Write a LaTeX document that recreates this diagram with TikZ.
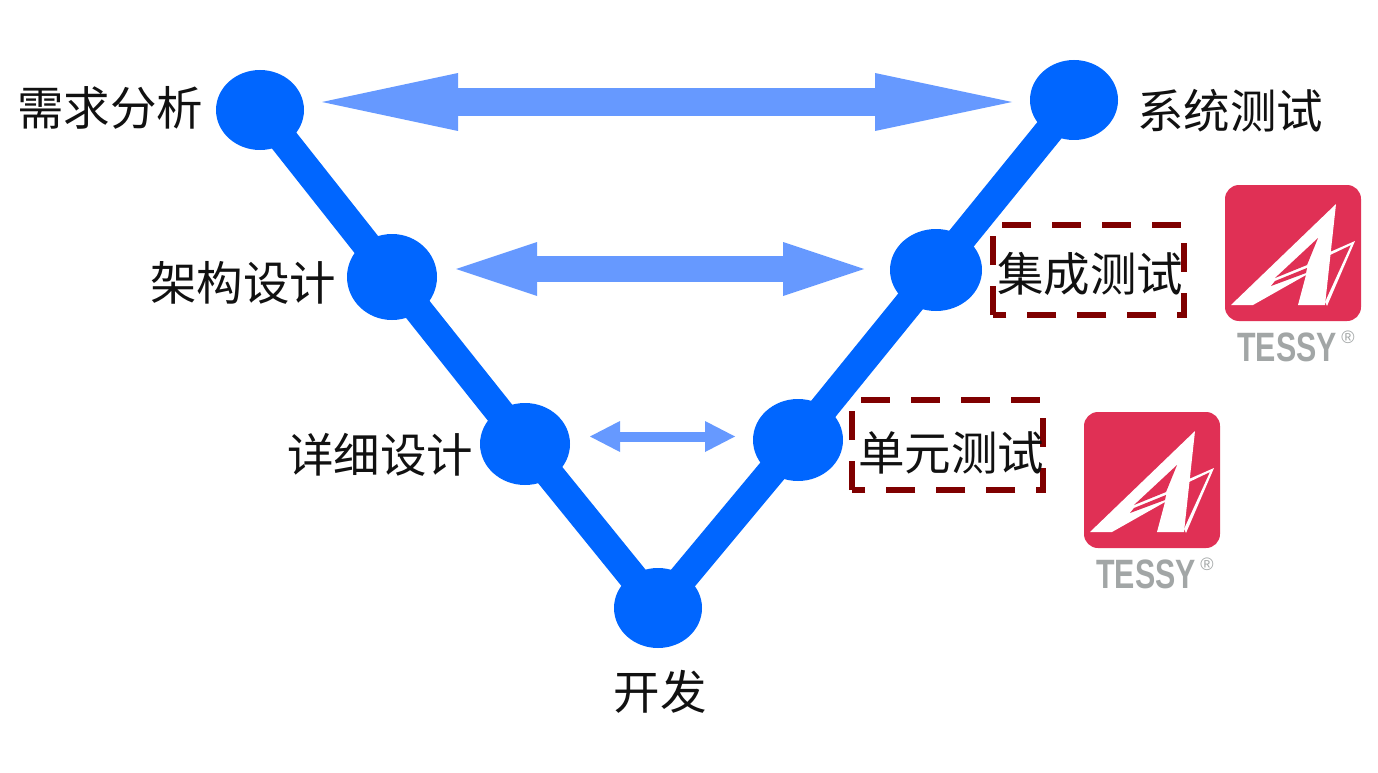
\documentclass[tikz,border=0pt]{standalone}
\usepackage{fontspec}
\usepackage{graphicx}
\usetikzlibrary{arrows.meta,shapes.geometric}
\newfontfamily\cjk{Noto Sans CJK SC}
\newfontfamily\latinsans{Liberation Sans}
\definecolor{vblue}{HTML}{0066FF}
\definecolor{linkblue}{HTML}{6699FF}
\definecolor{boxred}{HTML}{7F0000}
\definecolor{logored}{HTML}{E03055}
\definecolor{logogray}{HTML}{A2A6A6}
\definecolor{txt}{HTML}{111111}
\tikzset{
  x=1pt,y=-1pt,
  vdot/.style={ellipse,fill=vblue,inner sep=0pt,minimum width=#1},
  vline/.style={draw=vblue,line width=29pt},
  lbl/.style={font=\cjk\fontsize{46.5}{50}\selectfont,text=txt,inner sep=0pt},
  boxspot/.style={rectangle,minimum width=191pt,minimum height=90pt,inner sep=0pt},
  dbox/.style={draw=boxred,line width=6.5pt,dash pattern=on 29pt off 21pt},
  link/.style={line width=#1,draw=linkblue},
  pics/tessy/.style={code={
    \fill[logored,rounded corners=14pt] (0,0) rectangle (136,136);
    \fill[white] (6,120) -- (111,19) -- (100,120) -- (73,120) -- (81,90) -- (28,120) -- cycle;
    \fill[logored] (93,53) -- (50,93) -- (82,80) -- cycle;
    \fill[logored] (46,101) -- (50,96) -- (82,83) -- (81,88) -- cycle;
    \fill[white] (105,67) -- (130,56) -- (102,121) -- (100,117) -- (126,60) -- (105,70) -- cycle;
    \node[inner sep=0pt,text=logogray] (-logoname) at (62,162) {\scalebox{0.74}[1]{\latinsans\bfseries\fontsize{41}{44}\selectfont TESSY}};
    \node[inner sep=0pt,text=logogray] (-logomark) at (123,152) {\latinsans\fontsize{18}{20}\selectfont ®};
  }}
}
\begin{document}
\begin{tikzpicture}
\useasboundingbox[fill=white] (0,0) rectangle (1378,773);
% V nodes
\node[vdot=88pt,minimum height=80pt] (req) at (260,110) {};
\node[vdot=90pt,minimum height=86pt] (arch) at (392,277) {};
\node[vdot=90pt,minimum height=82pt] (det) at (525,444) {};
\node[vdot=88pt,minimum height=80pt] (dev) at (658,608) {};
\node[vdot=90pt,minimum height=82pt] (unit) at (798,440) {};
\node[vdot=92pt,minimum height=82pt] (integ) at (936,270) {};
\node[vdot=88pt,minimum height=80pt] (sys) at (1074,100) {};
\draw[vline] (req.center) -- (arch.center);
\draw[vline] (arch.center) -- (det.center);
\draw[vline] (det.center) -- (dev.center);
\draw[vline] (dev.center) -- (unit.center);
\draw[vline] (unit.center) -- (integ.center);
\draw[vline] (integ.center) -- (sys.center);
% link arrows
\coordinate (a1) at (322,102); \coordinate (b1) at (1012,102);
\coordinate (a2) at (456,269); \coordinate (b2) at (864,269);
\coordinate (a3) at (590,436.5); \coordinate (b3) at (735,436.5);
\draw[link=28pt,{Triangle[length=136pt,width=58pt,line width=0pt]}-{Triangle[length=137pt,width=58pt,line width=0pt]}] (a1) -- (b1);
\draw[link=26pt,{Triangle[length=81pt,width=54pt,line width=0pt]}-{Triangle[length=81pt,width=54pt,line width=0pt]}] (a2) -- (b2);
\draw[link=10pt,{Triangle[length=30pt,width=31pt,line width=0pt]}-{Triangle[length=30pt,width=31pt,line width=0pt]}] (a3) -- (b3);
% dashed boxes
\node[boxspot] (ibox) at (1088.5,270) {};
\node[boxspot] (ubox) at (947.5,445) {};
\draw[dbox] (ibox.south west) -- (ibox.north west) -- (ibox.north east) -- (ibox.south east) -- cycle;
\draw[dbox] (ubox.south west) -- (ubox.north west) -- (ubox.north east) -- (ubox.south east) -- cycle;
% labels
\node[lbl] (l1) at (110,108) {需求分析};
\node[lbl] (l2) at (243,283) {架构设计};
\node[lbl] (l3) at (380,455) {详细设计};
\node[lbl] (l4) at (660,692) {开发};
\node[lbl] (l5) at (1230,111) {系统测试};
\node[lbl] (l6) at (1090,274) {集成测试};
\node[lbl] (l7) at (951,453) {单元测试};
% logos
\pic (logoA) at (1225,185) {tessy};
\pic (logoB) at (1084,412) {tessy};
\end{tikzpicture}
\end{document}
